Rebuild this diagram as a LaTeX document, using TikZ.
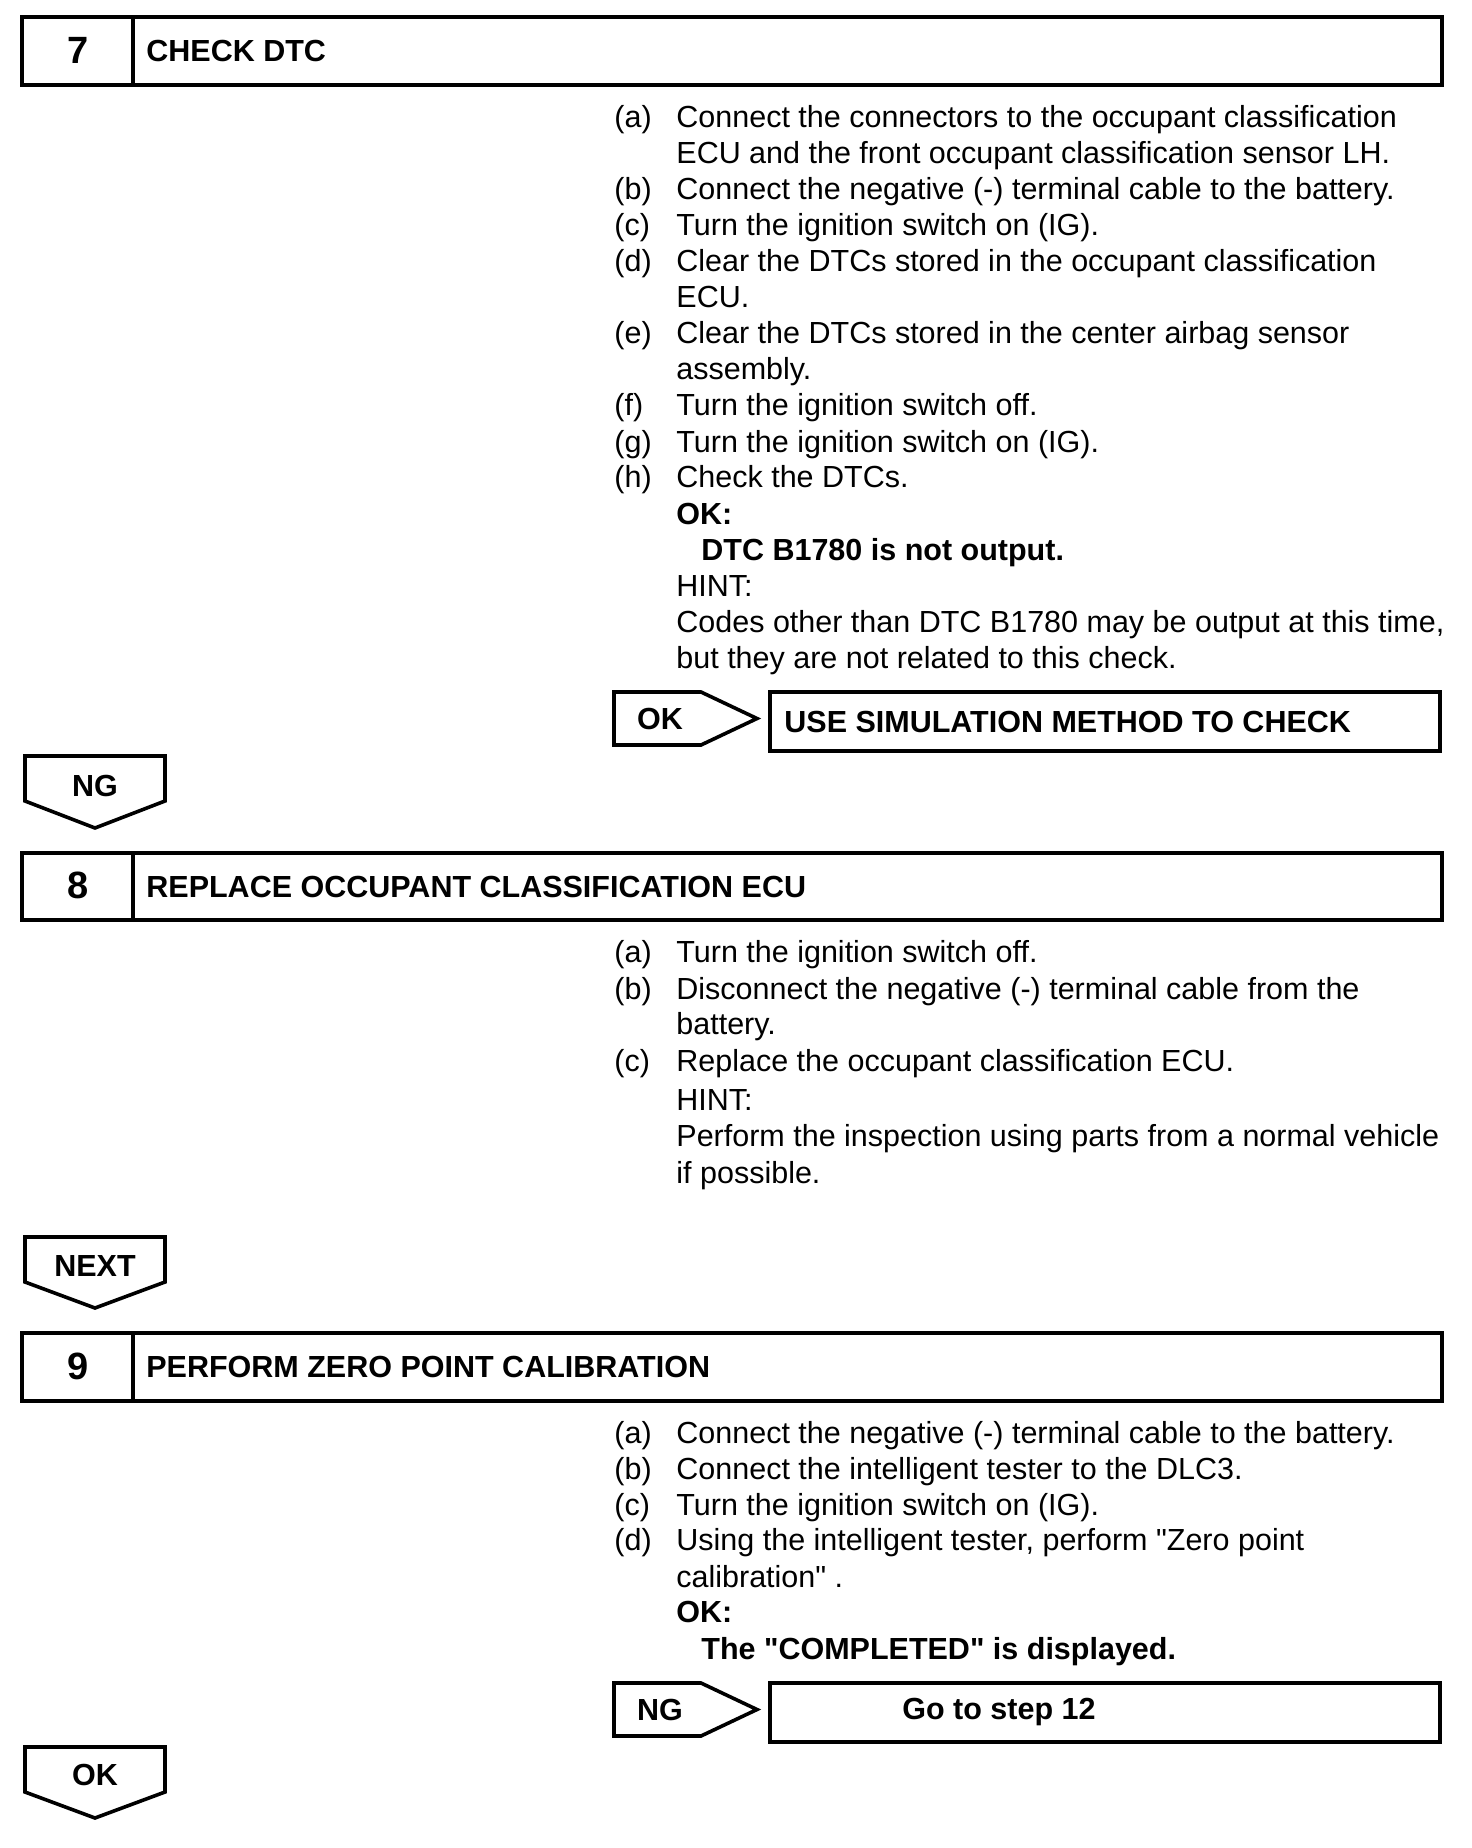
\documentclass[tikz,border=0pt]{standalone}
\usepackage{fontspec}
\setmainfont{Liberation Sans}[Ligatures=TeXOff]
\begin{document}
\begin{tikzpicture}[x=0.5pt,y=-0.5pt,
  frame/.style={draw=black,line width=2pt},
  arrowbox/.style={draw=black,line width=1.8pt,line join=miter},
  tx/.style={anchor=base west,inner sep=0pt,font=\fontsize{15.25}{18}\selectfont},
  bx/.style={anchor=base west,inner sep=0pt,font=\fontsize{15.25}{18}\selectfont\bfseries},
  hd/.style={anchor=west,inner sep=0pt,font=\fontsize{15.25}{18}\selectfont\bfseries},
  num/.style={anchor=center,inner sep=0pt,font=\fontsize{19}{22}\selectfont\bfseries},
  cn/.style={anchor=center,inner sep=0pt,font=\fontsize{15.25}{18}\selectfont\bfseries}]
\useasboundingbox (0,0) rectangle (1472,1848);
\fill[white] (0,0) rectangle (1472,1848);

% ---------- Step 7 header ----------
\draw[frame] (22,17) rectangle (1442,85);
\draw[frame] (133,17) -- (133,85);
\node[num] (n7) at (78,50) {7};
\node[hd] (t7) at (146,51) {CHECK DTC};

\node[tx] (s7a) at (614,127) {(a)};
\node[tx] (s7a1) at (676,127) {Connect the connectors to the occupant classification};
\node[tx] (s7a2) at (676,163) {ECU and the front occupant classification sensor LH.};
\node[tx] (s7b) at (614,199) {(b)};
\node[tx] (s7b1) at (676,199) {Connect the negative (-) terminal cable to the battery.};
\node[tx] (s7c) at (614,235) {(c)};
\node[tx] (s7c1) at (676,235) {Turn the ignition switch on (IG).};
\node[tx] (s7d) at (614,271) {(d)};
\node[tx] (s7d1) at (676,271) {Clear the DTCs stored in the occupant classification};
\node[tx] (s7d2) at (676,307) {ECU.};
\node[tx] (s7e) at (614,343) {(e)};
\node[tx] (s7e1) at (676,343) {Clear the DTCs stored in the center airbag sensor};
\node[tx] (s7e2) at (676,379) {assembly.};
\node[tx] (s7f) at (614,415) {(f)};
\node[tx] (s7f1) at (676,415) {Turn the ignition switch off.};
\node[tx] (s7g) at (614,452) {(g)};
\node[tx] (s7g1) at (676,452) {Turn the ignition switch on (IG).};
\node[tx] (s7h) at (614,487) {(h)};
\node[tx] (s7h1) at (676,487) {Check the DTCs.};
\node[bx] (s7ok) at (676,524) {OK:};
\node[bx] (s7okt) at (701,560) {DTC B1780 is not output.};
\node[tx] (s7hint) at (676,596) {HINT:};
\node[tx] (s7h2) at (676,632) {Codes other than DTC B1780 may be output at this time,};
\node[tx] (s7h3) at (676,668) {but they are not related to this check.};

% OK -> result
\draw[arrowbox] (614,692) -- (701,692) -- (757,718.5) -- (701,745) -- (614,745) -- cycle;
\node[cn] (ok7) at (660,719) {OK};
\draw[frame] (770,692) rectangle (1440,751);
\node[hd] (r7) at (784,721.5) {USE SIMULATION METHOD TO CHECK};

% NG down
\draw[arrowbox] (25,756) -- (165,756) -- (165,801) -- (95,828) -- (25,801) -- cycle;
\node[cn] (ng7) at (95,786) {NG};

% ---------- Step 8 header ----------
\draw[frame] (22,853) rectangle (1442,920);
\draw[frame] (133,853) -- (133,920);
\node[num] (n8) at (78,885.5) {8};
\node[hd] (t8) at (146,886.5) {REPLACE OCCUPANT CLASSIFICATION ECU};

\node[tx] (s8a) at (614,962) {(a)};
\node[tx] (s8a1) at (676,962) {Turn the ignition switch off.};
\node[tx] (s8b) at (614,999) {(b)};
\node[tx] (s8b1) at (676,999) {Disconnect the negative (-) terminal cable from the};
\node[tx] (s8b2) at (676,1034) {battery.};
\node[tx] (s8c) at (614,1071) {(c)};
\node[tx] (s8c1) at (676,1071) {Replace the occupant classification ECU.};
\node[tx] (s8hint) at (676,1110) {HINT:};
\node[tx] (s8h1) at (676,1146) {Perform the inspection using parts from a normal vehicle};
\node[tx] (s8h2) at (676,1183) {if possible.};

% NEXT down
\draw[arrowbox] (25,1237) -- (165,1237) -- (165,1282) -- (95,1308) -- (25,1282) -- cycle;
\node[cn] (next8) at (95,1266) {NEXT};

% ---------- Step 9 header ----------
\draw[frame] (22,1333) rectangle (1442,1401);
\draw[frame] (133,1333) -- (133,1401);
\node[num] (n9) at (78,1366) {9};
\node[hd] (t9) at (146,1367) {PERFORM ZERO POINT CALIBRATION};

\node[tx] (s9a) at (614,1443) {(a)};
\node[tx] (s9a1) at (676,1443) {Connect the negative (-) terminal cable to the battery.};
\node[tx] (s9b) at (614,1479) {(b)};
\node[tx] (s9b1) at (676,1479) {Connect the intelligent tester to the DLC3.};
\node[tx] (s9c) at (614,1515) {(c)};
\node[tx] (s9c1) at (676,1515) {Turn the ignition switch on (IG).};
\node[tx] (s9d) at (614,1550) {(d)};
\node[tx] (s9d1) at (676,1550) {Using the intelligent tester, perform "Zero point};
\node[tx] (s9d2) at (676,1587) {calibration" .};
\node[bx] (s9ok) at (676,1622) {OK:};
\node[bx] (s9okt) at (701,1659) {The "COMPLETED" is displayed.};

% NG -> result
\draw[arrowbox] (614,1683) -- (701,1683) -- (757,1709.5) -- (701,1736) -- (614,1736) -- cycle;
\node[cn] (ng9) at (660,1710) {NG};
\draw[frame] (770,1683) rectangle (1440,1742);
\node[hd] (r9) at (902,1712) {Go to step 12};

% OK down
\draw[arrowbox] (25,1747) -- (165,1747) -- (165,1792) -- (95,1818) -- (25,1792) -- cycle;
\node[cn] (ok9) at (95,1775) {OK};
\end{tikzpicture}
\end{document}
